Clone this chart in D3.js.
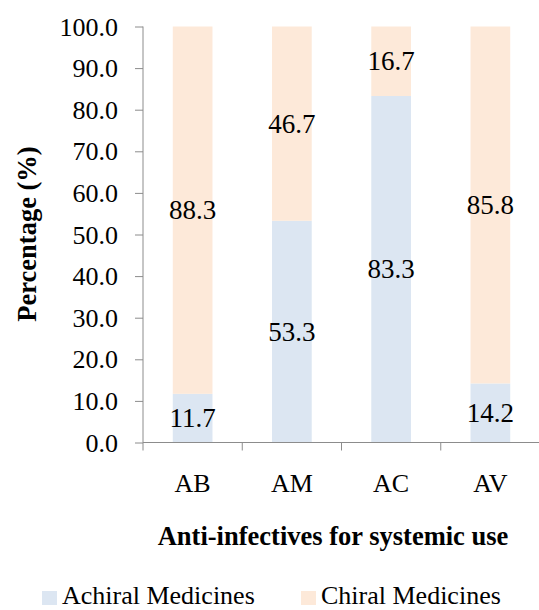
<!DOCTYPE html>
<html>
<head>
<meta charset="utf-8">
<script src="https://cdn.jsdelivr.net/npm/d3@7"></script>
<style>
  body { margin: 0; background: #fff; }
  svg text { font-family: "Liberation Serif", "Times New Roman", serif; fill: #000; }
</style>
</head>
<body>
<svg class="chart"></svg>
<script>
var categories = ['AB', 'AM', 'AC', 'AV'];
var achiral = [11.7, 53.3, 83.3, 14.2];
var chiral = [88.3, 46.7, 16.7, 85.8];
var seriesNames = ['Achiral Medicines', 'Chiral Medicines'];
var yTicks = [0, 10, 20, 30, 40, 50, 60, 70, 80, 90, 100];

var colors = ['#dce6f2', '#fde9d9'];
var axisColor = '#8c8c8c';
var chartWidth = 539, chartHeight = 610;
var plotLeft = 143, plotRight = 540, plotTop = 26.5, plotBottom = 442.5;

var chart = d3.select('.chart').attr('width', chartWidth).attr('height', chartHeight);

var x = d3.scaleBand().domain(categories).range([plotLeft, plotRight]).paddingInner(0.6).paddingOuter(0.3);
var xEdge = d3.scaleBand().domain(categories).range([plotLeft, plotRight]);
var y = d3.scaleLinear().domain([0, 100]).range([plotBottom, plotTop]);

var rows = categories.map((c, i) => ({cat: c, achiral: achiral[i], chiral: chiral[i]}));
var stack = d3.stack().keys(['achiral', 'chiral'])(rows);

// bars
chart.selectAll('g.series')
    .data(stack)
    .join('g')
    .attr('class', 'series')
    .attr('fill', (d, i) => colors[i])
    .selectAll('rect')
    .data(d => d)
    .join('rect')
    .attr('x', d => x(d.data.cat))
    .attr('width', x.bandwidth())
    .attr('y', d => y(d[1]))
    .attr('height', d => y(d[0]) - y(d[1]));

// y axis
var yAxis = d3.axisLeft(y).tickValues(yTicks).tickSize(8).tickPadding(17)
    .tickFormat(d => d.toFixed(1));
var gy = chart.append('g').attr('transform', 'translate(' + plotLeft + ',0)').call(yAxis);
gy.attr('font-family', null);
gy.select('.domain').attr('stroke', axisColor).attr('d', 'M0,' + plotTop + 'V' + (plotBottom + 8));
gy.selectAll('.tick line').attr('stroke', axisColor);
gy.selectAll('.tick text').style('font-size', '26px').attr('dy', null)
    .attr('dominant-baseline', 'central').attr('fill', '#000');

// x axis
var gx = chart.append('g').attr('transform', 'translate(0,' + plotBottom + ')');
gx.append('line').attr('x1', plotLeft).attr('x2', plotRight).attr('stroke', axisColor);
gx.selectAll('line.tk')
    .data(categories.slice(1))
    .join('line')
    .attr('class', 'tk')
    .attr('x1', d => xEdge(d))
    .attr('x2', d => xEdge(d))
    .attr('y1', 0).attr('y2', 8)
    .attr('stroke', axisColor);
gx.selectAll('text')
    .data(categories)
    .join('text')
    .attr('x', d => xEdge(d) + xEdge.bandwidth() / 2)
    .attr('y', 49.5)
    .attr('text-anchor', 'middle')
    .style('font-size', '26px')
    .text(d => d);

// value labels
stack.forEach(s => {
  chart.append('g').selectAll('text')
      .data(s)
      .join('text')
      .attr('x', d => x(d.data.cat) + x.bandwidth() / 2)
      .attr('y', d => y((d[0] + d[1]) / 2))
      .attr('text-anchor', 'middle')
      .attr('dominant-baseline', 'central')
      .style('font-size', '27px')
      .text(d => (d[1] - d[0]).toFixed(1));
});

// axis titles
chart.append('text')
    .attr('x', 333).attr('y', 545)
    .attr('text-anchor', 'middle')
    .style('font-size', '26.5px').style('font-weight', 'bold')
    .text('Anti-infectives for systemic use');

chart.append('text')
    .attr('transform', 'translate(27,234) rotate(-90)')
    .attr('text-anchor', 'middle')
    .attr('dominant-baseline', 'central')
    .style('font-size', '26.5px').style('font-weight', 'bold')
    .text('Percentage (%)');

// legend
var legendX = [42, 301];
var legend = chart.selectAll('g.legend')
    .data(seriesNames)
    .join('g')
    .attr('class', 'legend')
    .attr('transform', (d, i) => 'translate(' + legendX[i] + ',604)');
legend.append('rect').attr('x', 0).attr('y', -13).attr('width', 15).attr('height', 14)
    .attr('fill', (d, i) => colors[i]);
legend.append('text').attr('x', 20).attr('y', 0)
    .style('font-size', '26px')
    .text(d => d);
</script>
</body>
</html>
